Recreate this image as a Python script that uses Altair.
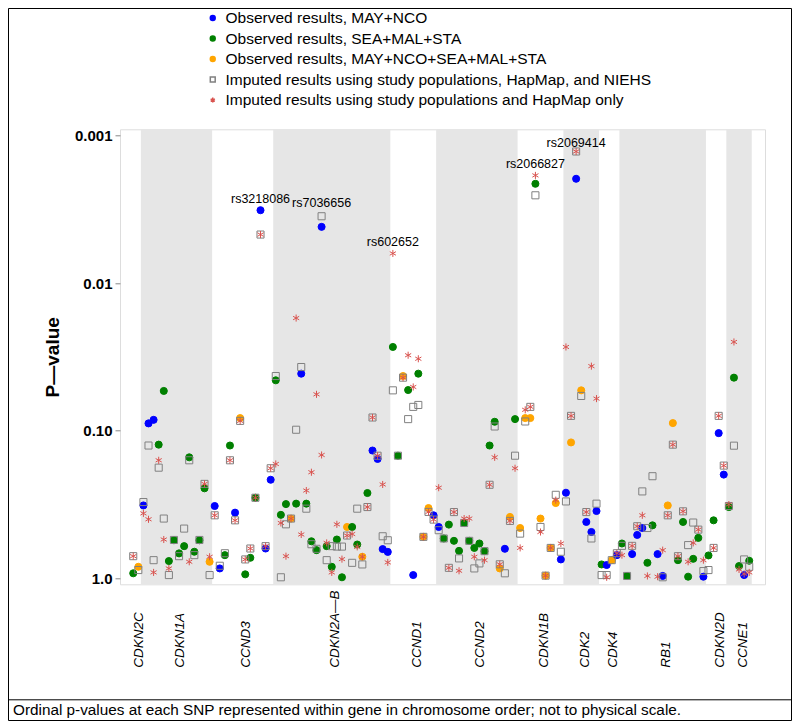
import json
import altair as alt
import pandas as pd

# ---------------- data ----------------
genes = ["CDKN2C", "CDKN1A", "CCND3", "CDKN2A—B", "CCND1", "CCND2",
         "CDKN1B", "CDK2", "CDK4", "RB1", "CDKN2D", "CCNE1"]
gene_snp_counts = [2, 14, 12, 23, 9, 16, 9, 7, 4, 17, 4, 5]

series_names = [
    "Observed results, MAY+NCO",
    "Observed results, SEA+MAL+STA",
    "Observed results, MAY+NCO+SEA+MAL+STA",
    "Imputed results using study populations, HapMap, and NIEHS",
    "Imputed results using study populations and HapMap only",
]

# observed result per SNP: B = MAY+NCO, G = SEA+MAL+STA, O = combined
obs_group = [
    "G", "O", "B", "B", "B", "G", "G", "G", "G", "G", "G", "G", "G", "G", "G", "O",
    "B", "B", "G", "G", "B", "O", "G", "G", "G", "B", "B", "B",
    "G", "G", "G", "O", "G", "B", "G", "G", "G", "B", "G", "G", "G", "G", "O", "G",
    "G", "O", "G", "B", "B", "B", "B",
    "G", "G", "O", "G", "B", "G", "O", "O", "B",
    "B", "G", "G", "G", "G", "G", "G", "G", "G", "G", "G", "G", "O", "B", "O", "G",
    "O", "O", "O", "G", "O", "O", "O", "O", "B",
    "B", "O", "B", "O", "B", "B", "B",
    "G", "B", "O", "B",
    "G", "G", "B", "B", "B", "G", "G", "B", "B", "O", "O", "G", "G", "G", "G", "G", "B",
    "G", "G", "B", "B",
    "G", "G", "G", "B", "G",
]
# -log10(p) of the observed result
obs_mlog10p = [
    0.034, 0.078, 0.494, 1.05, 1.074, 0.906, 1.27, 0.117, 0.258, 0.169, 0.218, 0.82, 0.18, 0.258, 0.61, 0.112,
    0.49, 0.067, 0.157, 0.90, 0.445, 1.086, 0.027, 0.139, 0.546, 2.495, 0.202, 0.668,
    1.342, 0.43, 0.503, 0.405, 0.506, 1.387, 0.506, 0.251, 0.191, 2.382, 0.218, 0.078, 0.263, 0.007, 0.348, 0.348,
    0.229, 0.146, 0.578, 0.866, 0.809, 0.198, 0.179,
    1.568, 0.831, 1.371, 1.276, 0.022, 1.387, 0.281, 0.476, 0.427,
    0.348, 0.27, 0.364, 0.254, 0.186, 0.375, 0.254, 0.206, 0.236, 0.184, 0.90, 1.061, 0.067, 0.2, 0.416, 1.079,
    0.341, 1.086, 1.086, 2.674, 0.405, 0.018, 0.206, 0.51, 0.128,
    0.58, 0.921, 2.708, 1.274, 0.382, 0.314, 0.456,
    0.094, 0.09, 0.123, 0.157,
    0.236, 0.016, 0.164, 0.294, 0.341, 0.105, 0.359, 0.164, 0.016, 0.494, 1.052, 0.123, 0.382, 0.011, 0.132, 0.274, 0.011,
    0.155, 0.393, 0.984, 0.703,
    0.483, 1.36, 0.083, 0.022, 0.119,
]
# -log10(p) imputed with study populations, HapMap and NIEHS (None = not shown)
niehs_mlog10p = [
    0.15, 0.056, 0.517, 0.90, 0.123, 0.75, 0.405, 0.022, 0.26, 0.15, 0.337, 0.80, 0.157, 0.26, 0.64, 0.022,
    0.427, 0.085, 0.17, 0.80, 0.393, 1.067, 0.128, 0.202, 0.546, 2.33, 0.218, 0.746,
    1.371, 0.007, 0.366, 0.405, 1.007, 1.432, 0.472, 0.231, 0.2, 2.454, 0.123, 0.218, 0.215, 0.215, 0.29, 0.105,
    0.472, 0.094, 0.483, 1.09, 0.831, 0.285, 0.258,
    1.274, 0.831, 1.36, 1.079, 1.162, 1.175, 0.281, 0.45, 0.398,
    0.326, 0.27, 0.071, 0.449, 0.135, 0.375, 0.254, 0.067, 0.101, 0.184, 0.634, 1.029, 0.095, 0.034, 0.389, 0.831,
    0.303, 1.063, 1.162, 2.596, 0.348, 0.018, 0.206, 0.566, 0.18,
    0.521, 1.101, 2.893, 1.236, 0.449, 0.27, 0.506,
    0.022, 0.022, 0.123, 0.17,
    0.22, 0.016, 0.22, 0.353, 0.589, 0.341, 0.692, None, 0.007, 0.427, 0.906, 0.15, 0.454, 0.225, 0.378, 0.33, 0.049,
    0.056, 0.206, 1.101, 0.764,
    0.49, 0.899, None, 0.128, 0.078,
]
# -log10(p) imputed with study populations and HapMap only
hapmap_mlog10p = [
    0.15, None, 0.44, 0.40, 0.04, 0.80, 0.263, 0.067, None, None, None, 0.112, None, None, 0.64, 0.146,
    0.427, None, None, 0.80, 0.393, 1.067, 0.128, 0.202, 0.546, 2.33, 0.218, 0.746,
    0.775, 0.375, 0.15, 0.405, 1.764, 0.297, 0.595, 0.719, 1.247, 0.836, 0.24, 0.04, 0.366, 0.13, 0.29, 0.3,
    0.213, 0.146, 0.483, 1.09, 0.831, 0.636, 0.108,
    2.202, None, 1.36, 1.512, 1.297, 1.488, 0.281, 0.45, 0.398,
    0.614, None, 0.071, 0.449, 0.051, 0.405, 0.405, 0.146, None, 0.123, 0.634, 0.82, 0.095, None, 0.389, 0.746,
    0.206, 1.142, 1.162, 2.731, 0.314, 0.018, 0.206, 0.53, 0.236,
    1.568, 1.101, 2.893, None, 0.449, 1.438, 1.218,
    None, 0.007, None, 0.17,
    0.157, None, 0.22, 0.353, 0.427, 0.016, None, 0.011, 0.191, 0.427, 0.906, 0.15, 0.454, 0.112, 0.24, 0.33, 0.123,
    None, 0.206, 1.101, 0.764,
    0.50, 1.602, 0.06, 0.03, 0.04,
]

label_snp = [25, 37, 51, 79, 87]
label_mlog10p = [2.573, 2.544, 2.281, 2.809, 2.949]
label_text = ["rs3218086", "rs7036656", "rs602652", "rs2066827", "rs2069414"]

y_tick_values = [0.001, 0.01, 0.1, 1.0]
y_tick_labels = ["0.001", "0.01", "0.10", "1.0"]

caption = "Ordinal p-values at each SNP represented within gene in chromosome order; not to physical scale."

# ---------------- tables ----------------
obs_map = {"B": series_names[0], "G": series_names[1], "O": series_names[2]}
rows = []
for i, (g, v) in enumerate(zip(obs_group, obs_mlog10p)):
    rows.append({"snp": i, "p": 10 ** (-v), "series": obs_map[g]})
for i, v in enumerate(niehs_mlog10p):
    if v is not None:
        rows.append({"snp": i, "p": 10 ** (-v), "series": series_names[3]})
for i, v in enumerate(hapmap_mlog10p):
    if v is not None:
        rows.append({"snp": i, "p": 10 ** (-v), "series": series_names[4]})
pts = pd.DataFrame(rows)

starts, centers = [], []
s = 0
for n in gene_snp_counts:
    starts.append(s)
    centers.append(s + (n - 1) / 2)
    s += n
bands = pd.DataFrame({
    "gene": genes,
    "x0": [a - 0.5 for a in starts],
    "x1": [a + n - 0.5 for a, n in zip(starts, gene_snp_counts)],
    "shade": [i % 2 == 1 for i in range(len(genes))],
})
bands = bands[bands["shade"]]

labels = pd.DataFrame({
    "snp": label_snp,
    "p": [10 ** (-v) for v in label_mlog10p],
    "text": label_text,
})

# ---------------- chart ----------------
W, H = 645, 455
FONT = "Liberation Sans"
x_scale = alt.Scale(domain=[-2.6, 124.1], nice=False, zero=False)
y_scale = alt.Scale(type="log", domain=[0.000905, 1.098], reverse=True, nice=False)

x_axis = alt.Axis(
    values=centers,
    labelExpr=f"{json.dumps(genes, ensure_ascii=False)}[indexof({json.dumps(centers)}, datum.value)]",
    labelAngle=270, labelAlign="left", labelBaseline="middle", labelPadding=83, labelOffset=3,
    ticks=False, domain=False, grid=False, labelFont=FONT, labelFontStyle="italic",
    labelFontSize=13.5, labelColor="black", labelOverlap=False, labelFlush=False, title=None,
)
y_axis = alt.Axis(
    values=y_tick_values,
    labelExpr=f"{json.dumps(y_tick_labels)}[indexof({json.dumps(y_tick_values)}, datum.value)]",
    labelFont=FONT, labelFontWeight="bold", labelFontSize=15, labelColor="black",
    labelPadding=3, tickSize=5, tickColor="#888888", domain=False, grid=False,
    title="P—value", titleFont=FONT, titleFontWeight="bold", titleFontSize=19,
    titleColor="black", titlePadding=12, labelOverlap=False, labelFlush=False,
)

star_path = "M0,-1L0,1M-0.866,-0.5L0.866,0.5M-0.866,0.5L0.866,-0.5"
legend = alt.Legend(
    orient="none", legendX=85, legendY=-119, title=None,
    labelFont=FONT, labelFontSize=15.5, labelColor="black", labelLimit=700,
    symbolSize=24, rowPadding=3.5, labelOffset=5,
)
shape_scale = alt.Scale(domain=series_names, range=["circle", "circle", "circle", "square", star_path])
fill_scale = alt.Scale(domain=series_names, range=["#0000ff", "#008000", "#ffa500", "transparent", "transparent"])
stroke_scale = alt.Scale(domain=series_names, range=["#0000ff", "#008000", "#ffa500", "#808080", "#d9534f"])

band_layer = alt.Chart(bands).mark_rect(color="#e6e6e6").encode(
    x=alt.X("x0:Q", scale=x_scale, axis=x_axis),
    x2="x1:Q",
    y=alt.value(0),
    y2=alt.value(H),
)

point_layer = alt.Chart(pts).mark_point(filled=True, size=50, strokeWidth=1, opacity=1).encode(
    x=alt.X("snp:Q", scale=x_scale, axis=x_axis),
    y=alt.Y("p:Q", scale=y_scale, axis=y_axis),
    shape=alt.Shape("series:N", scale=shape_scale, legend=legend),
    fill=alt.Fill("series:N", scale=fill_scale, legend=legend),
    stroke=alt.Stroke("series:N", scale=stroke_scale, legend=legend),
)

label_layer = alt.Chart(labels).mark_text(
    font=FONT, fontSize=12.5, color="black", baseline="middle", align="center"
).encode(
    x=alt.X("snp:Q", scale=x_scale, axis=x_axis),
    y=alt.Y("p:Q", scale=y_scale, axis=y_axis),
    text="text:N",
)

deco = pd.DataFrame({"caption": [caption]})
frame = alt.Chart(deco).mark_rect(fill="transparent", stroke="black", strokeWidth=1).encode(
    x=alt.value(-111.5), x2=alt.value(671.5), y=alt.value(-120.8), y2=alt.value(591.2),
)
separator = alt.Chart(deco).mark_rule(color="black", strokeWidth=1).encode(
    x=alt.value(-111.5), x2=alt.value(671.5), y=alt.value(570.5),
)
caption_layer = alt.Chart(deco).mark_text(
    font=FONT, fontSize=15.3, color="black", align="left", baseline="middle"
).encode(
    x=alt.value(-107), y=alt.value(581), text="caption:N",
)

chart = alt.layer(
    band_layer, point_layer, label_layer, frame, separator, caption_layer
).properties(
    width=W, height=H,
    padding={"left": 112, "top": 121.3, "right": 27, "bottom": 137.7},
    autosize=alt.AutoSizeParams(type="none"),
).configure_view(stroke="#8c8c8c", strokeWidth=1).configure(background="white")

chart.save("out.html", embed_options={"renderer": "svg", "actions": False})
